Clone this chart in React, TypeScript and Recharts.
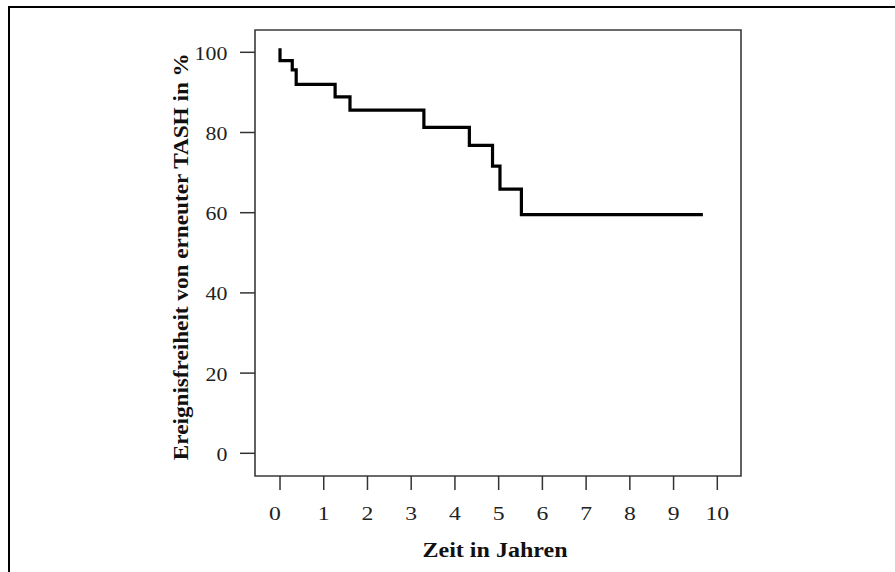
import React from 'react';
import { LineChart, Line, XAxis, YAxis, ReferenceArea, Label } from 'recharts';

const times = [0, 0, 0.28, 0.37, 1.26, 1.6, 3.29, 4.33, 4.86, 5.03, 5.52, 9.67];
const survival = [101, 97.9, 95.6, 92.0, 88.9, 85.6, 81.3, 76.8, 71.6, 65.9, 59.5, 59.5];
const xTicks = [0, 1, 2, 3, 4, 5, 6, 7, 8, 9, 10];
const yTicks = [0, 20, 40, 60, 80, 100];
const xTitle = 'Zeit in Jahren';
const yTitle = 'Ereignisfreiheit von erneuter TASH in %';

const data = times.map((t, i) => ({ t, s: survival[i] }));

const X_MIN = -0.572;
const X_MAX = 10.542;
const Y_MIN = -5.66;
const Y_MAX = 105.56;

const FONT = '"Liberation Serif", "Times New Roman", serif';

const XTick = (props: any) => {
  const { x, y, payload } = props;
  const dx = payload.value === 0 ? -5 : 0;
  return (
    <g transform={`translate(${x + dx},${y + 30}) scale(1.28,1)`}>
      <text x={0} y={0} textAnchor="middle" fontFamily={FONT} fontSize={18.5} fill="#222">
        {payload.value}
      </text>
    </g>
  );
};

const YTick = (props: any) => {
  const { x, y, payload } = props;
  return (
    <g transform={`translate(${x - 12.7},${y + 7.5}) scale(1.12,1)`}>
      <text x={0} y={0} textAnchor="end" fontFamily={FONT} fontSize={19.5} fill="#222">
        {payload.value}
      </text>
    </g>
  );
};

export default function App() {
  return (
    <div
      style={{
        position: 'fixed',
        left: 8,
        top: 6,
        width: 887,
        height: 566,
        boxSizing: 'border-box',
        borderTop: '2px solid #000',
        borderLeft: '2px solid #000',
        background: '#fff',
      }}
    >
      <LineChart
        width={885}
        height={564}
        data={data}
        margin={{ top: 22, right: 154, left: 165, bottom: 36 }}
      >
        <XAxis
          dataKey="t"
          type="number"
          domain={[X_MIN, X_MAX]}
          ticks={xTicks}
          allowDataOverflow
          axisLine={false}
          tickLine={{ stroke: '#333', strokeWidth: 1.5 }}
          tickSize={14}
          tickMargin={0}
          height={60}
          tick={<XTick />}
          interval={0}
        >
          <Label
            content={() => (
              <text
                x={485}
                y={549}
                textAnchor="middle"
                fontFamily={FONT}
                fontWeight="bold"
                fontSize={20}
                textLength={145}
                lengthAdjust="spacingAndGlyphs"
                fill="#111"
              >
                {xTitle}
              </text>
            )}
          />
        </XAxis>
        <YAxis
          type="number"
          domain={[Y_MIN, Y_MAX]}
          ticks={yTicks}
          allowDataOverflow
          axisLine={false}
          tickLine={{ stroke: '#333', strokeWidth: 1.5 }}
          tickSize={15}
          tickMargin={0}
          width={80}
          tick={<YTick />}
          interval={0}
        >
          <Label
            content={() => (
              <text
                transform="translate(178,248.7) rotate(-90)"
                x={0}
                y={0}
                textAnchor="middle"
                fontFamily={FONT}
                fontWeight="bold"
                fontSize={22}
                textLength={407}
                lengthAdjust="spacingAndGlyphs"
                fill="#111"
              >
                {yTitle}
              </text>
            )}
          />
        </YAxis>
        <ReferenceArea
          x1={X_MIN}
          x2={X_MAX}
          y1={Y_MIN}
          y2={Y_MAX}
          fill="none"
          fillOpacity={0}
          stroke="#3a3a3a"
          strokeWidth={1.6}
          ifOverflow="visible"
        />
        <Line
          type="stepAfter"
          dataKey="s"
          stroke="#000"
          strokeWidth={3.2}
          dot={false}
          isAnimationActive={false}
          strokeLinejoin="miter"
          strokeLinecap="butt"
        />
      </LineChart>
    </div>
  );
}
